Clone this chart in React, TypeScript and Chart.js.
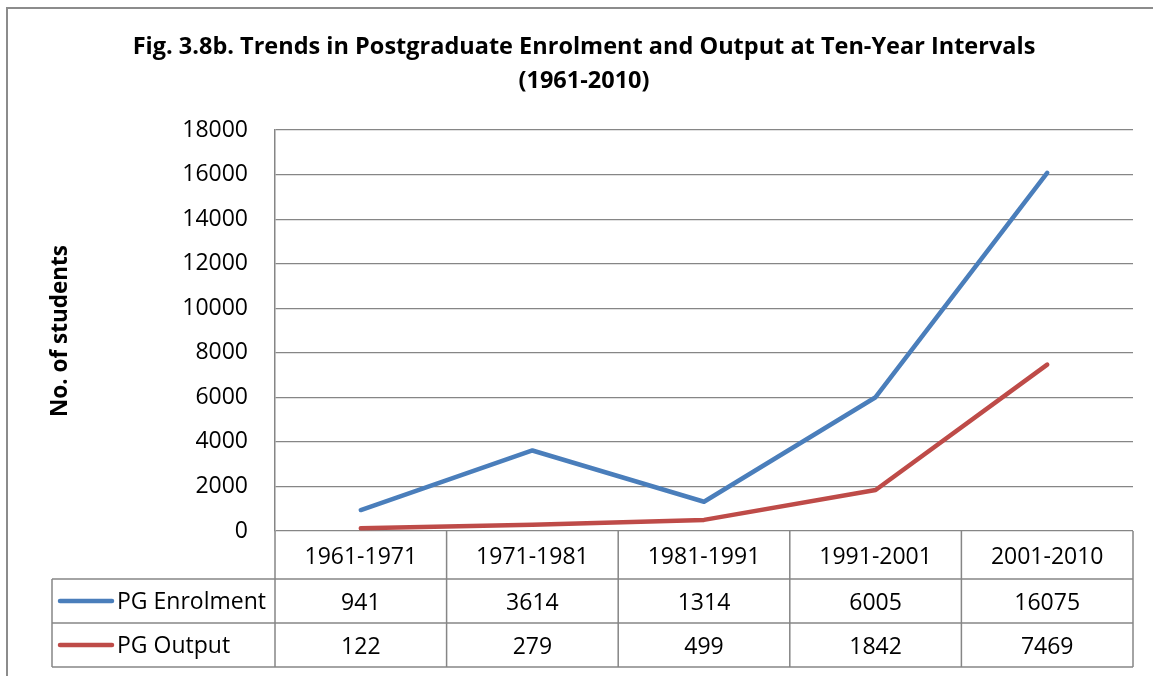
import React, { useEffect, useRef } from "react";
import { Chart, registerables } from "chart.js";

Chart.register(...registerables);

const categories = ["1961-1971", "1971-1981", "1981-1991", "1991-2001", "2001-2010"];
const enrolment = [941, 3614, 1314, 6005, 16075];
const output = [122, 279, 499, 1842, 7469];
const seriesNames = ["PG Enrolment", "PG Output"];
const titleLines = ["Fig. 3.8b. Trends in Postgraduate Enrolment and Output at Ten-Year Intervals", "(1961-2010)"];
const yAxisTitle = "No. of students";

const BLUE = "#4A7EBB";
const RED = "#BE4B48";
const GRID = "#868686";
const FONT = "'Open Sans', Lato, sans-serif";

const tablePlugin = {
  id: "tablePlugin",
  beforeDraw(chart: any) {
    const ctx = chart.ctx;
    ctx.save();
    ctx.fillStyle = "#fff";
    ctx.fillRect(0, 0, chart.width, chart.height);
    ctx.restore();
  },
  afterDraw(chart: any) {
    const ctx = chart.ctx;
    const x = chart.scales.x;
    const area = chart.chartArea;
    ctx.save();
    // outer border
    ctx.strokeStyle = "#8c8c8c";
    ctx.lineWidth = 2;
    ctx.strokeRect(7, 8, 1300, 800);
    // title
    ctx.fillStyle = "#000";
    ctx.font = `bold 23.5px ${FONT}`;
    ctx.textAlign = "center";
    ctx.textBaseline = "middle";
    ctx.fillText(titleLines[0], 584, 47);
    ctx.fillText(titleLines[1], 584, 81);
    // y title
    ctx.font = `bold 22.5px ${FONT}`;
    ctx.save();
    ctx.translate(61, 331);
    ctx.rotate(-Math.PI / 2);
    ctx.fillText(yAxisTitle, 0, 0);
    ctx.restore();

    // table
    const n = categories.length;
    const colW = (x.right - x.left) / n;
    const y0 = area.bottom;
    const rowH = [48, 44, 44];
    const r1 = y0 + rowH[0];
    const r2 = r1 + rowH[1];
    const r3 = r2 + rowH[2];
    const tableLeft = 52;
    ctx.strokeStyle = GRID;
    ctx.lineWidth = 1.5;
    ctx.beginPath();
    for (let i = 0; i <= n; i++) {
      const xx = x.left + i * colW;
      ctx.moveTo(xx, y0);
      ctx.lineTo(xx, r3);
    }
    ctx.moveTo(tableLeft, r1);
    ctx.lineTo(tableLeft, r3);
    [r1, r2, r3].forEach((yy) => {
      ctx.moveTo(tableLeft, yy);
      ctx.lineTo(x.right, yy);
    });
    ctx.stroke();

    ctx.font = `23px ${FONT}`;
    ctx.fillStyle = "#000";
    ctx.textAlign = "center";
    categories.forEach((c, i) => {
      const cx = x.getPixelForValue(i);
      ctx.fillText(c, cx, (y0 + r1) / 2 + 2);
      ctx.fillText(String(enrolment[i]), cx, (r1 + r2) / 2 + 2);
      ctx.fillText(String(output[i]), cx, (r2 + r3) / 2 + 2);
    });
    const rows = [
      { name: seriesNames[0], color: BLUE, y: (r1 + r2) / 2 },
      { name: seriesNames[1], color: RED, y: (r2 + r3) / 2 },
    ];
    rows.forEach((r) => {
      ctx.strokeStyle = r.color;
      ctx.lineWidth = 4.5;
      ctx.lineCap = "round";
      ctx.beginPath();
      ctx.moveTo(60, r.y);
      ctx.lineTo(112, r.y);
      ctx.stroke();
      ctx.textAlign = "left";
      ctx.fillText(r.name, 117, r.y + 1);
    });
    ctx.restore();
  },
};

export default function App() {
  const ref = useRef<HTMLCanvasElement>(null);
  useEffect(() => {
    if (!ref.current) return;
    const chart = new Chart(ref.current, {
      type: "line",
      data: {
        labels: categories,
        datasets: [
          { label: seriesNames[0], data: enrolment, borderColor: BLUE, backgroundColor: BLUE, borderWidth: 4.5, pointRadius: 0, tension: 0, borderCapStyle: "round", borderJoinStyle: "round" },
          { label: seriesNames[1], data: output, borderColor: RED, backgroundColor: RED, borderWidth: 4.5, pointRadius: 0, tension: 0, borderCapStyle: "round", borderJoinStyle: "round" },
        ],
      },
      options: {
        responsive: false,
        animation: false,
        layout: { padding: { top: 130, right: 20, bottom: 0, left: 0 } },
        plugins: { legend: { display: false }, title: { display: false }, tooltip: { enabled: false } },
        scales: {
          x: {
            type: "category",
            offset: true,
            ticks: { display: false },
            grid: { display: false },
            border: { display: false },
            afterFit: (s: any) => { s.height = 145; },
          },
          y: {
            min: 0,
            max: 18000,
            ticks: { stepSize: 2000, padding: 27, color: "#000", font: { family: FONT, size: 23 }, callback: (v: any) => String(v) },
            grid: { color: GRID, lineWidth: 1.2, drawTicks: false },
            border: { display: true, color: GRID, width: 1.5 },
            afterFit: (s: any) => { s.width = 275; },
          },
        },
      },
      plugins: [tablePlugin],
    } as any);
    return () => chart.destroy();
  }, []);
  return (
    <div style={{ position: "fixed", left: 0, top: 0, width: 1153, height: 676, background: "#fff" }}>
      <canvas ref={ref} width={1153} height={676} style={{ display: "block" }} />
    </div>
  );
}
